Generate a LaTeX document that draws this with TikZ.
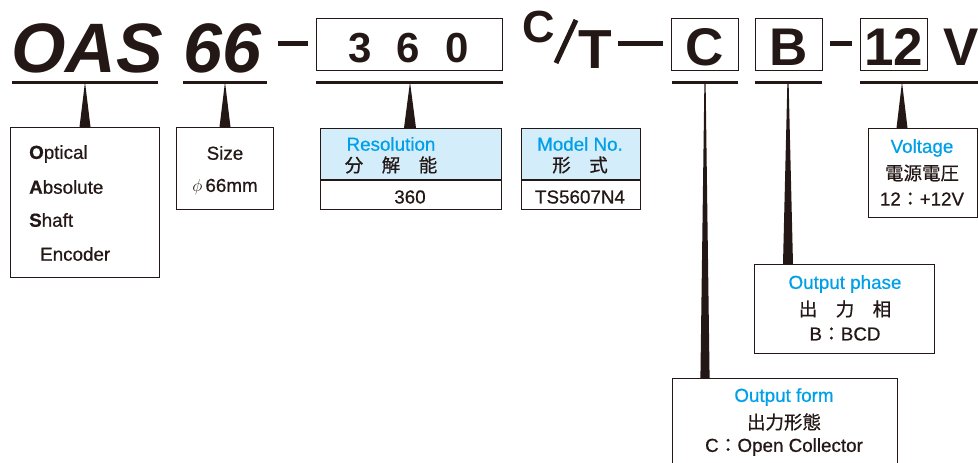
\documentclass[tikz,border=0pt]{standalone}
\usepackage{fontspec}
\setmainfont{Liberation Sans}
\newfontfamily\med[FakeBold=0.6]{Liberation Sans}
\newfontfamily\jp[FakeBold=0.6]{Noto Sans CJK JP}
\definecolor{ink}{HTML}{231815}
\definecolor{cyanT}{HTML}{00A0E9}
\definecolor{hdr}{HTML}{D3EDFA}
\begin{document}
\begin{tikzpicture}[x=1pt,y=-1pt,
  box/.style={draw=ink,line width=1.3pt,rectangle,inner sep=0pt,anchor=north west},
  big/.style={text=ink,inner sep=0pt,anchor=base,font=\fontsize{#1}{#1}\selectfont\bfseries},
  lbl/.style={text=ink,inner sep=0pt,font=\fontsize{18.8}{20}\selectfont\med},
  blu/.style={text=cyanT,inner sep=0pt,font=\fontsize{18.8}{20}\selectfont\med},
  jpl/.style={text=ink,inner sep=0pt,font=\fontsize{18.5}{20}\selectfont\jp},
  uline/.style={draw=ink,line width=3pt},
  dashbar/.style={draw=ink,line width=5pt},
  wedge/.style={fill=ink}]
\useasboundingbox (0,0) rectangle (978,463);
\clip (0,0) rectangle (978,463);
% ---------- top code line ----------
\node[big=70,anchor=base west] (oas) at (11,72) {\itshape OAS};
\node[big=70,anchor=base west] (sixsix) at (183,72) {\itshape 66};
\coordinate (d1a) at (278,43); \coordinate (d1b) at (308,43);
\draw[dashbar] (d1a) -- (d1b);
\node[box,minimum width=186pt,minimum height=52pt] (resbig) at (316,18) {};
\node[big=42] (r3) at (360,62) {3};
\node[big=42] (r6) at (408,62) {6};
\node[big=42] (r0) at (457,62) {0};
\node[big=45,anchor=base west] (cc) at (522,42) {C};
\coordinate (sla) at (556,63); \coordinate (slb) at (576,20);
\draw[draw=ink,line width=5pt] (sla) -- (slb);
\node[big=55,anchor=base west] (tt) at (578,68) {T};
\coordinate (d2a) at (618,43); \coordinate (d2b) at (663,43);
\draw[dashbar] (d2a) -- (d2b);
\node[box,minimum width=67pt,minimum height=52pt] (cbig) at (671,18) {};
\node[big=53] (ct) at (705,65) {C};
\node[box,minimum width=67pt,minimum height=52pt] (bbig) at (755,18) {};
\node[big=53] (bt) at (789,65) {B};
\coordinate (d3a) at (830,43); \coordinate (d3b) at (852,43);
\draw[dashbar] (d3a) -- (d3b);
\node[box,minimum width=67pt,minimum height=52pt] (vbig) at (860,18) {};
\node[big=53] (vt) at (894,65) {12};
\node[big=53] (vv) at (961,65) {V};
% underlines
\coordinate (u1a) at (12,82);  \coordinate (u1b) at (158,82);
\coordinate (u2a) at (183,82); \coordinate (u2b) at (267,82);
\coordinate (u3a) at (316,82); \coordinate (u3b) at (503,82);
\coordinate (u4a) at (672,82); \coordinate (u4b) at (738,82);
\coordinate (u5a) at (755,82); \coordinate (u5b) at (822,82);
\coordinate (u6a) at (860,82); \coordinate (u6b) at (978,82);
\foreach \i in {1,...,6} \draw[uline] (u\i a) -- (u\i b);
% ---------- boxes ----------
\node[box,minimum width=149pt,minimum height=150pt] (oasbox) at (10,127) {};
\node[box,minimum width=97pt,minimum height=82pt] (sizebox) at (176,127) {};
\fill[hdr] (320,128) rectangle (501,180);
\node[box,minimum width=181pt,minimum height=81pt] (resbox) at (320,128) {};
\draw[draw=ink,line width=1.3pt] (resbox.west |- 0,180) -- (resbox.east |- 0,180);
\fill[hdr] (521,128) rectangle (640,180);
\node[box,minimum width=119pt,minimum height=81pt] (modbox) at (521,128) {};
\draw[draw=ink,line width=1.3pt] (modbox.west |- 0,180) -- (modbox.east |- 0,180);
\node[box,minimum width=109pt,minimum height=89pt] (voltbox) at (868,128) {};
\node[box,minimum width=180pt,minimum height=89pt] (phbox) at (754,264) {};
\node[box,minimum width=225pt,minimum height=100pt] (formbox) at (672,378) {};
% ---------- wedges ----------
\coordinate (w1) at (85,82);
\coordinate (w2) at (225,82);
\coordinate (w3) at (410,82);
\coordinate (w4) at (705,82);
\coordinate (w5) at (788,82);
\coordinate (w6) at (902,82);
\fill[wedge] (w1) -- ([xshift=-5.5pt]oasbox.north -| w1) -- ([xshift=5.5pt]oasbox.north -| w1) -- cycle;
\fill[wedge] (w2) -- ([xshift=-5.5pt]sizebox.north -| w2) -- ([xshift=5.5pt]sizebox.north -| w2) -- cycle;
\fill[wedge] (w3) -- ([xshift=-6pt]resbox.north -| w3) -- ([xshift=6pt]resbox.north -| w3) -- cycle;
\fill[wedge] ([xshift=-0.6pt]w4) -- ([xshift=-4.6pt]formbox.north -| w4) -- ([xshift=4.6pt]formbox.north -| w4) -- ([xshift=0.6pt]w4) -- cycle;
\fill[wedge] ([xshift=-0.6pt]w5) -- ([xshift=-5pt]phbox.north -| w5) -- ([xshift=5pt]phbox.north -| w5) -- ([xshift=0.6pt]w5) -- cycle;
\fill[wedge] (w6) -- ([xshift=-5.5pt]voltbox.north -| w6) -- ([xshift=5.5pt]voltbox.north -| w6) -- cycle;
% ---------- texts ----------
\node[lbl,anchor=west] (t1) at (29,154) {\textbf{O}ptical};
\node[lbl,anchor=west] (t2) at (29,187) {\textbf{A}bsolute};
\node[lbl,anchor=west] (t3) at (29,220) {\textbf{S}haft};
\node[lbl,anchor=west] (t4) at (40,254) {Encoder};
\node[lbl] (s1) at (225,153) {Size};
\node[lbl] (s2) at (225,187) {$\phi$\,66mm};
\node[blu] (r1) at (391,144) {Resolution};
\node[jpl] (r2) at (391,165) {分\hspace{1em}解\hspace{1em}能};
\node[lbl] (r3t) at (410,197) {360};
\node[blu] (m1) at (580,144) {Model No.};
\node[jpl] (m2) at (580,165) {形\hspace{1em}式};
\node[lbl] (m3) at (580,197) {TS5607N4};
\node[blu] (v1) at (922,148) {Voltage};
\node[jpl] (v2) at (922,173) {電源電圧};
\node[lbl] (v3) at (922,199) {12{\jp ：}+12V};
\node[blu] (p1) at (845,284) {Output phase};
\node[jpl] (p2) at (845,309) {出\hspace{1em}力\hspace{1em}相};
\node[lbl] (p3) at (845,334) {B{\jp ：}BCD};
\node[blu] (f1) at (784,397) {Output form};
\node[jpl] (f2) at (784,422) {出力形態};
\node[lbl] (f3) at (784,447) {C{\jp ：}Open Collector};
\end{tikzpicture}
\end{document}
